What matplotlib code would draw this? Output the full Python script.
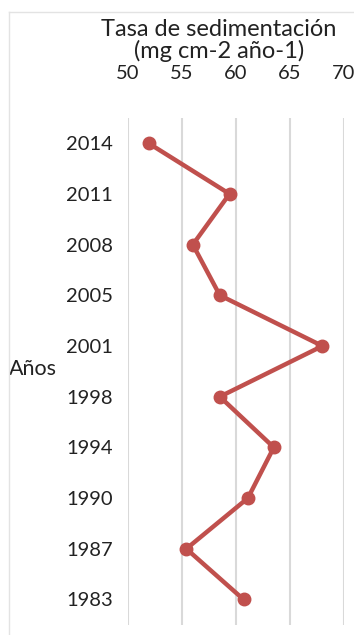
import matplotlib.pyplot as plt

plt.rcParams["font.family"] = ["Lato", "DejaVu Sans"]

# sedimentation rate per year (top to bottom as in the chart)
years = ["2014", "2011", "2008", "2005", "2001", "1998", "1994", "1990", "1987", "1983"]
tasa = [51.9, 59.4, 56.0, 58.5, 68.0, 58.5, 63.5, 61.1, 55.4, 60.7]
xticks = [50, 55, 60, 65, 70]

fig = plt.figure(figsize=(3.54, 6.35), dpi=100)
ax = fig.add_axes([0.3616, 0.016, 0.6102, 0.7984])

# faint chart-area border (left and top)
fig.add_artist(plt.Line2D([0.026, 0.026], [0.0, 0.981], color="#e3e3e3", lw=1,
                          transform=fig.transFigure))
fig.add_artist(plt.Line2D([0.026, 1.0], [0.981, 0.981], color="#e3e3e3", lw=1,
                          transform=fig.transFigure))

pos = list(range(len(years)))
ax.plot(tasa, pos, color="#C0504D", lw=3.2, marker="o", markersize=9,
        solid_capstyle="round", zorder=3)

ax.set_xlim(50, 70)
ax.set_ylim(len(years) - 0.5, -0.5)
ax.set_xticks(xticks)
ax.set_yticks(pos)
ax.set_yticklabels(years)
ax.xaxis.tick_top()
ax.xaxis.set_label_position("top")
ax.tick_params(axis="x", length=0, labelsize=14.5, pad=26, colors="#222222")
ax.tick_params(axis="y", length=0, labelsize=14.5, pad=11, colors="#222222")

ax.grid(axis="x", color="#d9d9d9", lw=1.5)
ax.set_axisbelow(True)
for s in ax.spines.values():
    s.set_visible(False)

ax.set_xlabel("Tasa de sedimentación\n(mg cm-2 año-1)", fontsize=17,
              labelpad=5, linespacing=1.0, color="#222222")
ax.xaxis.label.set_x(0.42)
ax.set_ylabel("Años", fontsize=15.5, rotation=0, labelpad=0, color="#222222",
              va="center", ha="left")
ax.yaxis.set_label_coords(-0.55, 0.505)

plt.savefig("out.png", dpi=100)
